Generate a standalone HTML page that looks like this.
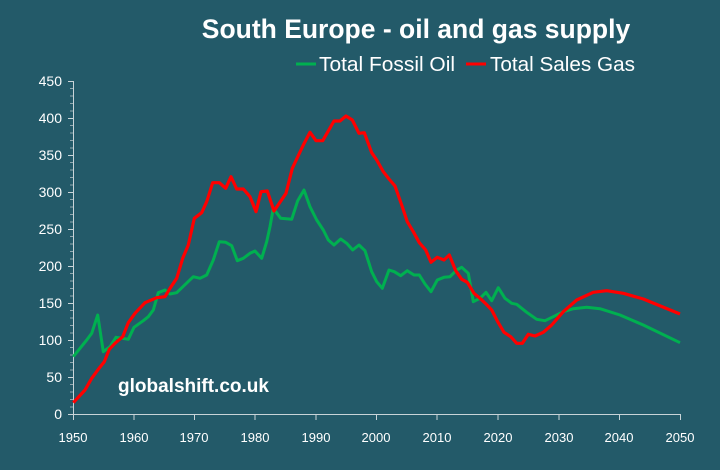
<!DOCTYPE html>
<html><head><meta charset="utf-8"><style>
html,body{margin:0;padding:0;background:#235a69;}
svg{display:block;font-family:"Liberation Sans",sans-serif;}
</style></head><body>
<svg width="720" height="470" viewBox="0 0 720 470" xmlns="http://www.w3.org/2000/svg">
<rect width="720" height="470" fill="#235a69"/>
<text x="416" y="38" text-anchor="middle" font-size="26.5" font-weight="bold" fill="#fff">South Europe - oil and gas supply</text>
<line x1="296" y1="64" x2="316" y2="64" stroke="#00b050" stroke-width="3"/>
<text x="319" y="71" font-size="20" fill="#fff" textLength="136" lengthAdjust="spacingAndGlyphs">Total Fossil Oil</text>
<line x1="466" y1="64" x2="486" y2="64" stroke="#ff0000" stroke-width="3"/>
<text x="490" y="71" font-size="20" fill="#fff" textLength="145" lengthAdjust="spacingAndGlyphs">Total Sales Gas</text>
<g stroke="#c8d4d8" stroke-width="1">
<line x1="73.5" y1="81" x2="73.5" y2="415"/>
<line x1="73" y1="414.5" x2="681" y2="414.5"/>
</g>
<g font-size="14" fill="#fff" text-anchor="end">
<text x="62" y="419">0</text><text x="62" y="382">50</text><text x="62" y="345">100</text><text x="62" y="308">150</text><text x="62" y="271">200</text><text x="62" y="234">250</text><text x="62" y="197">300</text><text x="62" y="160">350</text><text x="62" y="123">400</text><text x="62" y="86">450</text>
</g>
<g font-size="13" fill="#fff" text-anchor="middle">
<text x="73" y="442">1950</text><text x="134" y="442">1960</text><text x="194" y="442">1970</text><text x="255" y="442">1980</text><text x="316" y="442">1990</text><text x="376" y="442">2000</text><text x="437" y="442">2010</text><text x="498" y="442">2020</text><text x="559" y="442">2030</text><text x="619" y="442">2040</text><text x="680" y="442">2050</text>
</g>
<g stroke="#c8d4d8" stroke-width="1">
<path d="M73.5 414v6M134 414v6M194.5 414v6M255 414v6M316 414v6M376.5 414v6M437 414v6M498 414v6M559 414v6M619.5 414v6M680.5 414v6"/>
<path d="M68 414.5h5M68 377.5h5M68 340.5h5M68 303.5h5M68 266.5h5M68 229.5h5M68 192.5h5M68 155.5h5M68 118.5h5M68 81.5h5"/>
<path stroke="#8fa8b0" d="M70 407h3M70 399.5h3M70 392h3M70 384.5h3M70 370h3M70 362.5h3M70 355h3M70 347.5h3M70 333h3M70 325.5h3M70 318h3M70 310.5h3M70 296h3M70 288.5h3M70 281h3M70 273.5h3M70 259h3M70 251.5h3M70 244h3M70 236.5h3M70 222h3M70 214.5h3M70 207h3M70 199.5h3M70 185h3M70 177.5h3M70 170h3M70 162.5h3M70 148h3M70 140.5h3M70 133h3M70 125.5h3M70 111h3M70 103.5h3M70 96h3M70 88.5h3"/>
</g>
<text x="118" y="392" font-size="19" font-weight="bold" fill="#fff">globalshift.co.uk</text>
<polyline fill="none" stroke="#00b050" stroke-width="3" stroke-linejoin="round" points="73.3,356.7 86.7,340 91.7,333.3 97.7,315 103.3,351.7 110,346.7 116,337.3 128.3,339.3 134,327.3 143.3,320.7 148.3,316.7 153.3,310 158.3,292.7 165,290 170,294 176.7,292.7 193.3,276.7 200,278.3 206.7,275 213.3,260 219.3,241.7 225.7,242.3 231.7,245.7 237.3,260.7 243.3,258.3 250,253.3 255,251 261.7,258.3 266.7,241.7 270,226.7 273.3,208.3 280.7,218.3 291.7,219.3 297.7,200.7 304,190 310,206.7 316.7,220 323.3,230 328.3,240 334,245 340.7,239 346.7,243.3 352.7,250 359,245 365,250.7 371.7,271.7 376.7,281.7 382.3,288.3 389,270 394.3,271.7 400.7,275.7 407.3,270.7 414,275 419.3,275 425,284 431,291.7 437.3,280 444,277.3 450,276.7 456.7,270 461.7,267.3 468.3,273.3 473.3,301.7 480,298.3 486,292.3 491.7,300.7 498.3,287.7 505,298.3 511.7,303.3 516.7,304.3 526.7,312.3 536.7,319.3 545,320.7 553.3,316.7 563.3,311.7 573.3,308.7 586.7,307.3 600,308.7 620,315 643.3,325 680,342.7"/>
<polyline fill="none" stroke="#ff0000" stroke-width="3.2" stroke-linejoin="round" points="73.3,402.7 85,390 91.7,378.3 98.3,369.3 104.3,361.7 109.3,349.3 115,343.3 122.7,336.7 128.3,322.7 135,313.3 145,302.7 156.7,297.7 165,296.7 170,288.3 176.7,278.3 182.7,258.3 188.3,245 194.3,218.3 201.7,212.7 206.7,201.7 212.7,182.7 219.3,182.7 225.7,188.3 231,176.7 236.7,189 243.3,189 250,196.7 256,211.7 261,191.7 267.3,191 274,211 286,193.3 292.3,168.3 303.3,145 310,132.3 316,140.7 322.7,140.7 334,121 340,121 346,116 352.3,120 359,133.3 364.3,132.7 371.7,152.7 376.7,160 383.3,171.7 389,179 395,186 401.7,205 407.3,221.7 413.3,231.7 419.3,242.7 425.7,250 431,262.3 437.3,257.3 444,260 449.3,255 455.7,270.7 461.7,279.3 467.3,282.3 474,293.3 480,298.3 486,304 491.7,310 497.7,321.7 504,332.3 510.7,336.7 516.7,343.3 522.3,343.3 528.3,334.3 535,336 543.3,332.3 551.7,325 563.3,311.7 576.7,300 593.3,292.3 606.7,290.7 623.3,293.3 643.3,299 680,314"/>
</svg>
</body></html>
